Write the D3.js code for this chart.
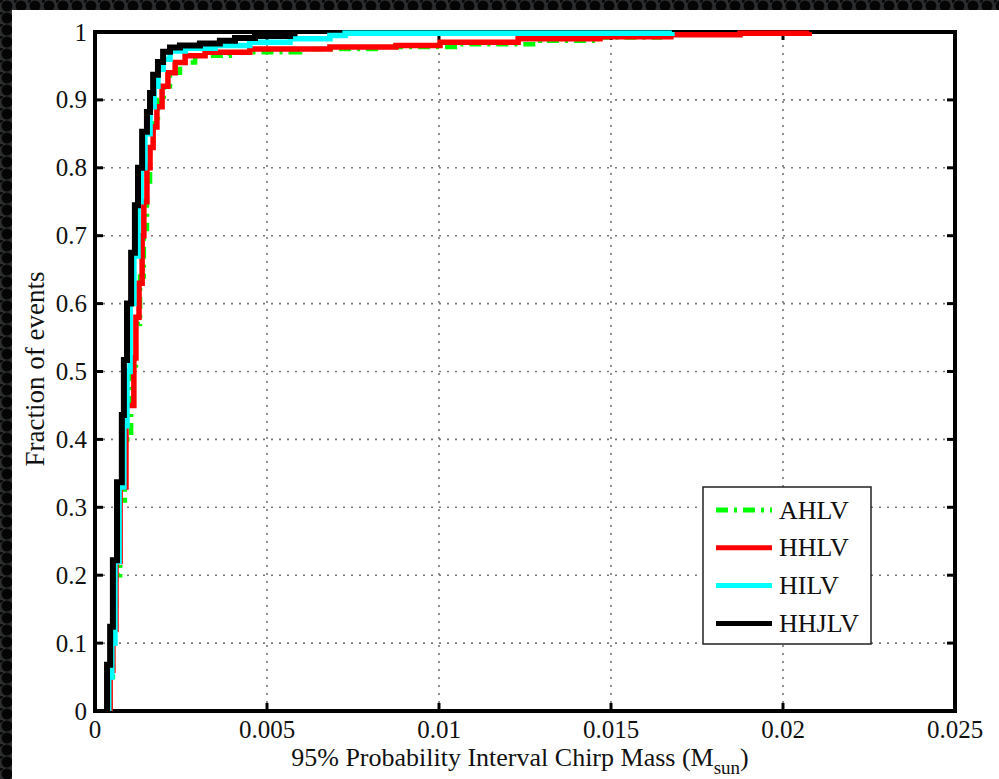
<!DOCTYPE html>
<html><head><meta charset="utf-8">
<script src="https://cdn.jsdelivr.net/npm/d3@7/dist/d3.min.js"></script>
<style>html,body{margin:0;padding:0;background:#111;}svg{display:block;}
svg text{font-family:"Liberation Serif","DejaVu Serif",serif;}</style>
</head><body>
<svg id="chart" width="999" height="779"></svg>
<script>
// ---- data (step CDFs: x = 95% interval width, y = cumulative fraction) ----
const xTicks = [0, 0.005, 0.01, 0.015, 0.02, 0.025];
const xTickLabels = ["0", "0.005", "0.01", "0.015", "0.02", "0.025"];
const yTicks = [0, 0.1, 0.2, 0.3, 0.4, 0.5, 0.6, 0.7, 0.8, 0.9, 1];
const yTickLabels = ["0", "0.1", "0.2", "0.3", "0.4", "0.5", "0.6", "0.7", "0.8", "0.9", "1"];
const seriesNames = ["AHLV", "HHLV", "HILV", "HHJLV"];

const ahlvX = [0.00044,0.00052,0.00061,0.00073,0.00087,0.00105,0.00119,0.00131,0.00142,0.00151,0.0016,0.00169,0.00183,0.002,0.00218,0.00247,0.00291,0.00392,0.00596,0.00828,0.01061,0.01294,0.01468,0.01642,0.01817];
const ahlvY = [0.05,0.13,0.2,0.31,0.4,0.5,0.57,0.64,0.71,0.78,0.83,0.87,0.9,0.92,0.94,0.955,0.965,0.97,0.975,0.978,0.982,0.987,0.992,0.996,1.0];

const hhlvX = [0.00044,0.00052,0.00061,0.00073,0.0009,0.00113,0.00119,0.00128,0.00137,0.00142,0.00151,0.0016,0.00169,0.0018,0.00195,0.00212,0.00233,0.00262,0.0032,0.0045,0.00683,0.00875,0.01003,0.0123,0.01468,0.01674,0.01875,0.02076];
const hhlvY = [0.06,0.12,0.22,0.33,0.45,0.52,0.58,0.63,0.70,0.75,0.80,0.83,0.86,0.89,0.92,0.94,0.955,0.965,0.97,0.975,0.978,0.98,0.985,0.99,0.993,0.996,0.998,1.0];

const hilvX = [0.0004,0.00049,0.00058,0.0007,0.00084,0.00093,0.00102,0.00113,0.00125,0.00134,0.00145,0.0016,0.00172,0.00183,0.00198,0.00218,0.00262,0.00349,0.0045,0.00567,0.00683,0.00727,0.01677];
const hilvY = [0.05,0.1,0.22,0.33,0.42,0.5,0.6,0.67,0.75,0.8,0.85,0.89,0.92,0.945,0.96,0.972,0.976,0.98,0.985,0.99,0.995,0.998,1.0];

const hhjlvX = [0.00035,0.00044,0.00052,0.00064,0.00078,0.00084,0.00093,0.00105,0.00116,0.00125,0.00137,0.00151,0.0016,0.00169,0.00183,0.00198,0.00218,0.00247,0.00305,0.00363,0.00407,0.00465,0.00567,0.0058];
const hhjlvY = [0.068,0.124,0.222,0.337,0.436,0.517,0.6,0.675,0.745,0.8,0.853,0.882,0.91,0.937,0.956,0.971,0.977,0.98,0.983,0.987,0.991,0.994,0.998,1.0];

// ---- layout ----
const svg = d3.select("#chart");
const W = 999, H = 779;
const pL = 95, pR = 955, pT = 32, pB = 711;

// dark textured background
const defs = svg.append("defs");
const pat = defs.append("pattern").attr("id","tex").attr("width",14).attr("height",12).attr("patternUnits","userSpaceOnUse");
pat.append("rect").attr("width",14).attr("height",12).attr("fill","#2b2d2f");
pat.append("circle").attr("cx",7).attr("cy",6).attr("r",5.5).attr("fill","#050505");
pat.append("circle").attr("cx",0).attr("cy",0).attr("r",3).attr("fill","#0a0a0a");
svg.append("rect").attr("width",W).attr("height",H).attr("fill","url(#tex)");
svg.append("rect").attr("x",12).attr("y",10).attr("width",W-12).attr("height",H-10).attr("fill","#fff");

const x = d3.scaleLinear().domain([0, 0.025]).range([pL, pR]);
const y = d3.scaleLinear().domain([0, 1]).range([pB, pT]);

// grid
const grid = svg.append("g");
grid.selectAll("line.gx").data(xTicks.slice(1, -1)).join("line")
  .attr("x1", d => x(d)).attr("x2", d => x(d)).attr("y1", pB).attr("y2", pT)
  .attr("stroke", "#777").attr("stroke-width", 1.6).attr("stroke-dasharray", "2,6");
grid.selectAll("line.gy").data(yTicks.slice(1, -1)).join("line")
  .attr("x1", pL).attr("x2", pR).attr("y1", d => y(d)).attr("y2", d => y(d))
  .attr("stroke", "#777").attr("stroke-width", 1.6).attr("stroke-dasharray", "2,6");

// ticks (inside, mirrored)
const tk = svg.append("g").attr("stroke", "#000").attr("stroke-width", 3);
xTicks.forEach(d => {
  tk.append("line").attr("x1", x(d)).attr("x2", x(d)).attr("y1", pB).attr("y2", pB - 8);
  tk.append("line").attr("x1", x(d)).attr("x2", x(d)).attr("y1", pT).attr("y2", pT + 8);
});
yTicks.forEach(d => {
  tk.append("line").attr("x1", pL).attr("x2", pL + 8).attr("y1", y(d)).attr("y2", y(d));
  tk.append("line").attr("x1", pR).attr("x2", pR - 8).attr("y1", y(d)).attr("y2", y(d));
});

// box
svg.append("rect").attr("x", pL).attr("y", pT).attr("width", pR - pL).attr("height", pB - pT)
  .attr("fill", "none").attr("stroke", "#000").attr("stroke-width", 4);

// tick labels
svg.append("g").selectAll("text").data(xTicks).join("text")
  .attr("x", (d) => x(d)).attr("y", 738).attr("text-anchor", "middle")
  .attr("font-size", 25).attr("fill", "#111")
  .text((d, i) => xTickLabels[i]);
svg.append("g").selectAll("text").data(yTicks).join("text")
  .attr("x", 87).attr("y", d => y(d) + 8.5).attr("text-anchor", "end")
  .attr("font-size", 25).attr("fill", "#111")
  .text((d, i) => yTickLabels[i]);

// axis titles
const xt = svg.append("text").attr("x", 520).attr("y", 766).attr("text-anchor", "middle")
  .attr("font-size", 26).attr("fill", "#111");
xt.append("tspan").text("95% Probability Interval Chirp Mass (M");
xt.append("tspan").attr("font-size", 19).attr("dy", 8).text("sun");
xt.append("tspan").attr("dy", -8).text(")");
svg.append("text").attr("transform", "translate(44,369) rotate(-90)").attr("text-anchor", "middle")
  .attr("font-size", 27).attr("fill", "#111").text("Fraction of events");

// series
const series = [
  {name: seriesNames[0], xs: ahlvX, ys: ahlvY, color: "#00ff00", w: 4.5, dash: "12,6,3,6"},
  {name: seriesNames[1], xs: hhlvX, ys: hhlvY, color: "#ff0000", w: 5.5, dash: null},
  {name: seriesNames[2], xs: hilvX, ys: hilvY, color: "#00ffff", w: 5.5, dash: null},
  {name: seriesNames[3], xs: hhjlvX, ys: hhjlvY, color: "#000000", w: 6, dash: null}
];
const line = d3.line().x(d => x(d[0])).y(d => y(d[1])).curve(d3.curveStepAfter);
series.forEach(s => {
  const pts = [[s.xs[0], 0]].concat(s.xs.map((v, i) => [v, s.ys[i]]));
  svg.append("path").datum(pts).attr("d", line).attr("fill", "none")
    .attr("stroke", s.color).attr("stroke-width", s.w)
    .attr("stroke-dasharray", s.dash).attr("stroke-linejoin", "miter");
});

// legend
const lg = svg.append("g");
lg.append("rect").attr("x", 703).attr("y", 487).attr("width", 168).attr("height", 157)
  .attr("fill", "#fff").attr("stroke", "#222").attr("stroke-width", 1.5);
series.forEach((s, i) => {
  const ly = 510 + i * 37.8;
  lg.append("line").attr("x1", 716).attr("x2", 772).attr("y1", ly).attr("y2", ly)
    .attr("stroke", s.color).attr("stroke-width", 5).attr("stroke-dasharray", s.dash);
  lg.append("text").attr("x", 779).attr("y", ly + 8.5).attr("font-size", 26)
    .attr("fill", "#111").text(s.name);
});
</script>
</body></html>
